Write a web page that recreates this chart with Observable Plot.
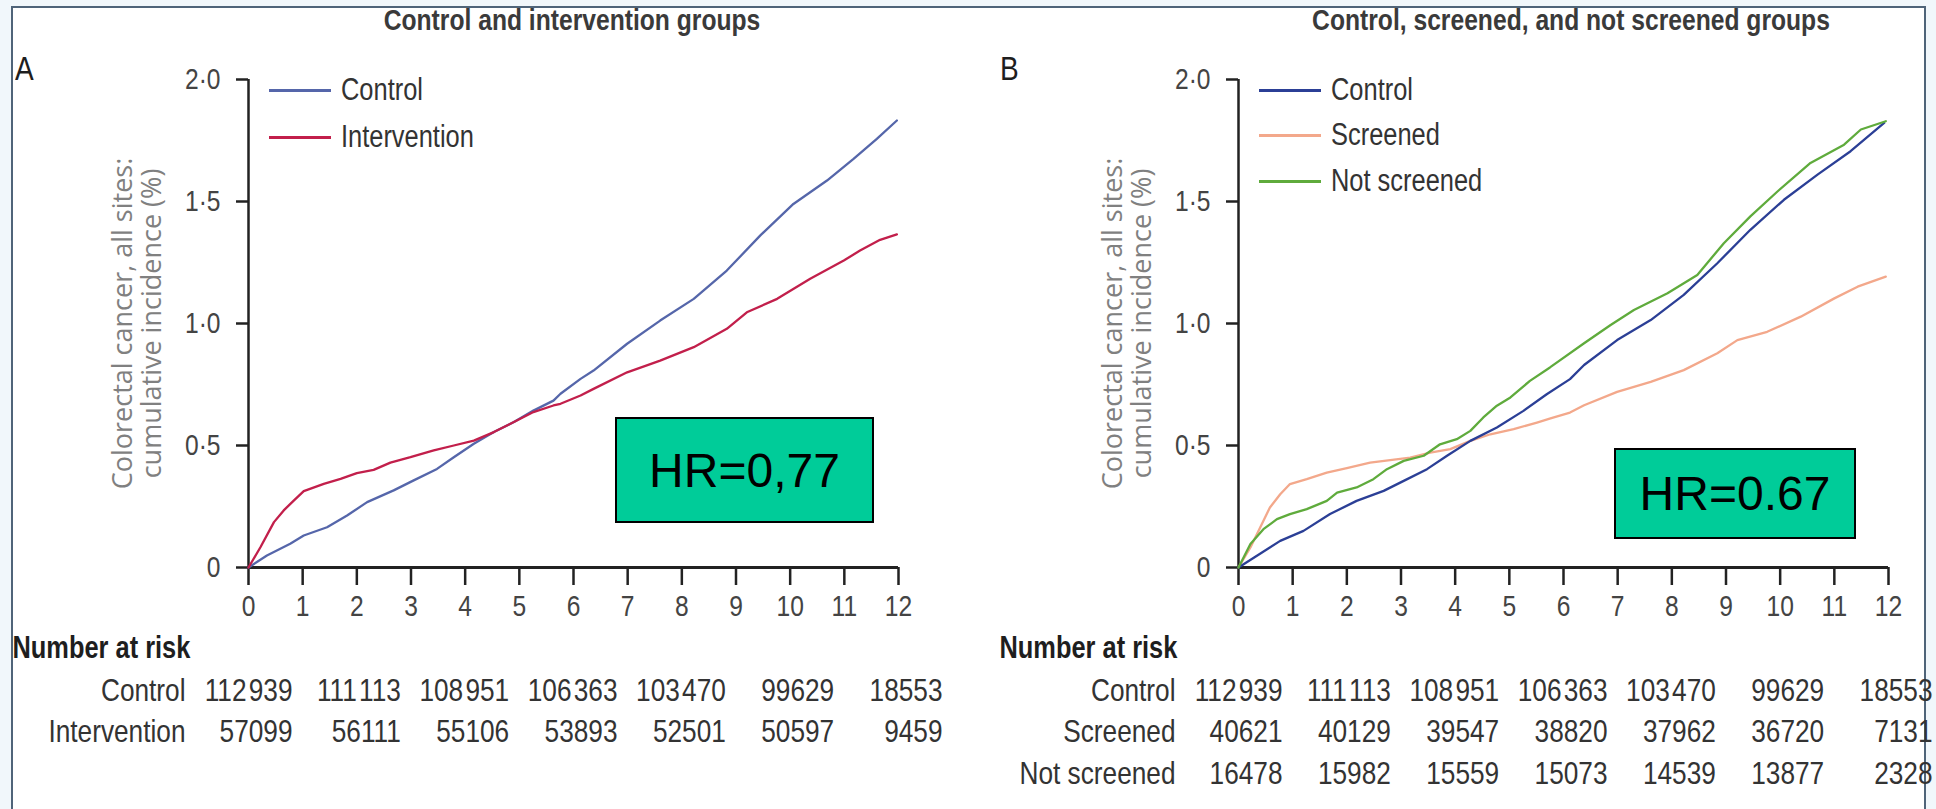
<!DOCTYPE html>
<html><head><meta charset="utf-8">
<script src="https://cdn.jsdelivr.net/npm/d3@7"></script>
<script src="https://cdn.jsdelivr.net/npm/@observablehq/plot@0.6"></script>
<style>
html,body{margin:0;padding:0;background:#eef5fa;}
#root{position:relative;width:1936px;height:809px;overflow:hidden;background:#f1f7fb;}
#frame{position:absolute;left:11px;top:6px;width:1911px;height:820px;background:#fff;border:2px solid #4f6479;border-bottom:none;}
.abs{position:absolute;white-space:nowrap;}
.title{font-family:'Liberation Sans',Arial,sans-serif;font-weight:bold;font-size:29px;color:#3a3a3a;transform:translateX(-50%) scaleX(0.85);transform-origin:center;}
.letter{font-family:'Liberation Sans',Arial,sans-serif;font-size:33px;color:#1e1e1e;transform:scaleX(0.85);transform-origin:left;}
.leg{font-family:'Liberation Sans',Arial,sans-serif;font-size:31px;color:#333;display:flex;align-items:center;}
.leg span.sw{display:inline-block;width:62px;height:3px;margin-right:10px;}
.leg span.tx{display:inline-block;transform:scaleX(0.82);transform-origin:left;}
.hr{background:#00cc99;border:2px solid #000;box-sizing:border-box;display:flex;align-items:center;justify-content:center;font-family:'Liberation Sans',Arial,sans-serif;font-size:48px;color:#000;}
.panel{position:absolute;top:0;width:968px;height:809px;}
</style></head><body>
<div id="root"><div id="frame"></div></div>
<script>
// ---------- data ----------
const yTicks = [0, 0.5, 1, 1.5, 2];
const yTickLabels = ["0", "0·5", "1·0", "1·5", "2·0"];
const xTicks = [0,1,2,3,4,5,6,7,8,9,10,11,12];
const riskYears = [0, 2, 4, 6, 8, 10, 12];

// Panel A: [years, cumulative incidence %]
const aControl = [[0,0],[0.34,0.049],[0.77,0.097],[1.02,0.131],[1.45,0.165],[1.82,0.213],[2.19,0.268],[2.68,0.316],[3.05,0.357],[3.48,0.404],[3.79,0.452],[4.16,0.507],[4.53,0.555],[4.90,0.596],[5.26,0.643],[5.63,0.684],[5.76,0.712],[6.13,0.773],[6.37,0.807],[6.99,0.917],[7.6,1.012],[8.22,1.101],[8.83,1.217],[9.45,1.361],[10.06,1.49],[10.68,1.586],[11.17,1.675],[11.6,1.757],[11.97,1.832]];
const aIntervention = [[0,0],[0.22,0.083],[0.47,0.186],[0.65,0.234],[0.84,0.275],[1.02,0.313],[1.39,0.343],[1.70,0.363],[2.0,0.387],[2.31,0.40],[2.62,0.43],[2.99,0.452],[3.42,0.48],[3.79,0.50],[4.16,0.52],[4.53,0.555],[4.90,0.596],[5.26,0.637],[5.63,0.664],[5.76,0.671],[6.13,0.705],[6.37,0.732],[6.99,0.80],[7.6,0.848],[8.22,0.903],[8.83,0.978],[9.2,1.046],[9.76,1.101],[10.37,1.183],[10.99,1.258],[11.29,1.299],[11.66,1.343],[11.97,1.365]];

// Panel B
const bControl = [[0,0],[0.34,0.048],[0.77,0.109],[1.2,0.15],[1.69,0.219],[2.18,0.273],[2.68,0.314],[3.05,0.355],[3.48,0.403],[3.85,0.458],[4.28,0.519],[4.77,0.574],[5.26,0.642],[5.69,0.71],[6.12,0.772],[6.38,0.83],[6.99,0.932],[7.61,1.014],[8.22,1.117],[8.84,1.247],[9.45,1.384],[10.07,1.507],[10.69,1.61],[11.3,1.706],[11.92,1.822]];
const bScreened = [[0,0],[0.22,0.082],[0.40,0.164],[0.58,0.246],[0.77,0.30],[0.95,0.342],[1.26,0.362],[1.63,0.389],[2.0,0.407],[2.43,0.43],[2.8,0.44],[3.17,0.45],[3.54,0.471],[3.91,0.485],[4.28,0.519],[4.65,0.546],[5.08,0.567],[5.51,0.594],[5.76,0.611],[6.12,0.635],[6.38,0.665],[6.99,0.72],[7.61,0.761],[8.22,0.809],[8.84,0.878],[9.21,0.932],[9.76,0.966],[10.38,1.028],[11.0,1.103],[11.43,1.151],[11.95,1.192]];
const bNotScreened = [[0,0],[0.22,0.096],[0.46,0.157],[0.71,0.198],[0.95,0.219],[1.26,0.239],[1.63,0.273],[1.82,0.307],[2.18,0.328],[2.49,0.362],[2.74,0.403],[3.05,0.437],[3.42,0.458],[3.72,0.505],[4.03,0.526],[4.28,0.56],[4.52,0.615],[4.77,0.663],[5.02,0.697],[5.38,0.765],[5.75,0.82],[6.38,0.919],[6.87,0.994],[7.30,1.055],[7.92,1.124],[8.47,1.199],[8.96,1.329],[9.45,1.439],[9.95,1.541],[10.56,1.658],[11.18,1.733],[11.49,1.795],[11.95,1.829]];

// Number at risk
const riskControl = [112939, 111113, 108951, 106363, 103470, 99629, 18553];
const riskIntervention = [57099, 56111, 55106, 53893, 52501, 50597, 9459];
const riskScreened = [40621, 40129, 39547, 38820, 37962, 36720, 7131];
const riskNotScreened = [16478, 15982, 15559, 15073, 14539, 13877, 2328];

const titleA = "Control and intervention groups";
const titleB = "Control, screened, and not screened groups";
const yLabel = "Colorectal cancer, all sites:\ncumulative incidence (%)";

// ---------- styles ----------
const SANS = "'Liberation Sans',Arial,sans-serif";
const NARROW_SCALE = 0.82;
const fmt = n => n >= 100000 ? String(n).slice(0, 3) + "\u200A" + String(n).slice(3) : String(n);

// emulate a narrow face: compress glyphs horizontally around each text's own anchor
function narrowTexts(svg, s) {
  svg.querySelectorAll("text").forEach(t => {
    if (t.textContent.includes("Colorectal")) return;
    const tr = t.getAttribute("transform") || "";
    const xa = t.getAttribute("x");
    let x = 0;
    if (xa !== null && !isNaN(+xa)) { x = +xa; t.removeAttribute("x"); }
    t.setAttribute("transform", `${tr} translate(${x},0) scale(${s},1)`);
  });
}

function panel({left, marginLeft, marginRight, series, rows, narLeft}) {
  const rowDy = [133, 174, 216];
  const marks = [
    Plot.axisY({ticks: yTicks, tickFormat: d => yTickLabels[yTicks.indexOf(d)], tickSize: 12, tickPadding: 16,
      fontSize: 30, label: null, strokeWidth: 2.5, stroke: "#222", fill: "#444", fontFamily: SANS}),
    Plot.axisX({ticks: xTicks, tickFormat: d => String(d), tickSize: 18, tickPadding: 9,
      fontSize: 30, label: null, strokeWidth: 2.5, stroke: "#222", fill: "#444", fontFamily: SANS}),
    Plot.ruleX([0], {y1: 0, y2: 2, stroke: "#222", strokeWidth: 2.5}),
    Plot.ruleY([0], {x1: 0, x2: 12, stroke: "#222", strokeWidth: 3}),
    Plot.text([yLabel], {frameAnchor: "left", textAnchor: "middle", dx: -111, rotate: -90, fontSize: 27, lineHeight: 1.05,
      fill: "#808080", fontFamily: "'Open Sans',sans-serif"}),
    ...series.map(s => Plot.line(s.data, {x: d => d[0], y: d => d[1], stroke: s.color, strokeWidth: 2.3})),
    Plot.text(["Number at risk"], {frameAnchor: "bottom-left", dx: narLeft - marginLeft, dy: 90,
      textAnchor: "start", fontWeight: "bold", fontSize: 31, fill: "#1e1e1e", fontFamily: SANS})
  ];
  rows.forEach((r, k) => {
    marks.push(Plot.text([r.label], {frameAnchor: "bottom-left", dx: -63, dy: rowDy[k], textAnchor: "end",
      fontSize: 32, fill: "#333", fontFamily: SANS}));
    marks.push(Plot.text(riskYears, {x: d => d, text: (d, i) => fmt(r.values[i]), frameAnchor: "bottom",
      dy: rowDy[k], dx: 44, textAnchor: "end", fontSize: 32, fill: "#333", fontFamily: SANS}));
  });
  const svg = Plot.plot({
    width: 968, height: 809,
    marginLeft, marginRight, marginTop: 79, marginBottom: 242,
    x: {domain: [0, 12]},
    y: {domain: [0, 2]},
    style: {background: "transparent", overflow: "visible"},
    marks
  });
  narrowTexts(svg, NARROW_SCALE);
  const div = document.createElement("div");
  div.className = "panel";
  div.style.left = left + "px";
  div.appendChild(svg);
  return div;
}

const root = document.getElementById("root");
root.appendChild(panel({
  left: 0, marginLeft: 248, marginRight: 70, narLeft: 12,
  series: [{data: aControl, color: "#5566aa"}, {data: aIntervention, color: "#c21f4b"}],
  rows: [{label: "Control", values: riskControl}, {label: "Intervention", values: riskIntervention}]
}));
root.appendChild(panel({
  left: 968, marginLeft: 270, marginRight: 48, narLeft: 31,
  series: [{data: bScreened, color: "#f3a88b"}, {data: bControl, color: "#2b3f96"}, {data: bNotScreened, color: "#5fab3c"}],
  rows: [{label: "Control", values: riskControl}, {label: "Screened", values: riskScreened}, {label: "Not screened", values: riskNotScreened}]
}));

function add(html) { root.insertAdjacentHTML("beforeend", html); }
add(`<div class="abs title" style="left:572px;top:4px">${titleA}</div>`);
add(`<div class="abs title" style="left:1571px;top:4px">${titleB}</div>`);
add(`<div class="abs letter" style="left:15px;top:50px">A</div>`);
add(`<div class="abs letter" style="left:1000px;top:50px">B</div>`);
const legA = [["Control", "#5566aa", 90], ["Intervention", "#c21f4b", 137]];
const legB = [["Control", "#2b3f96", 90], ["Screened", "#f3a88b", 135], ["Not screened", "#5fab3c", 181]];
legA.forEach(([t, c, y]) => add(`<div class="abs leg" style="left:269px;top:${y - 20}px;height:40px"><span class="sw" style="background:${c}"></span><span class="tx">${t}</span></div>`));
legB.forEach(([t, c, y]) => add(`<div class="abs leg" style="left:1259px;top:${y - 20}px;height:40px"><span class="sw" style="background:${c}"></span><span class="tx">${t}</span></div>`));
add(`<div class="abs hr" style="left:615px;top:417px;width:259px;height:106px">HR=0,77</div>`);
add(`<div class="abs hr" style="left:1614px;top:448px;width:242px;height:91px">HR=0.67</div>`);
</script></body></html>
